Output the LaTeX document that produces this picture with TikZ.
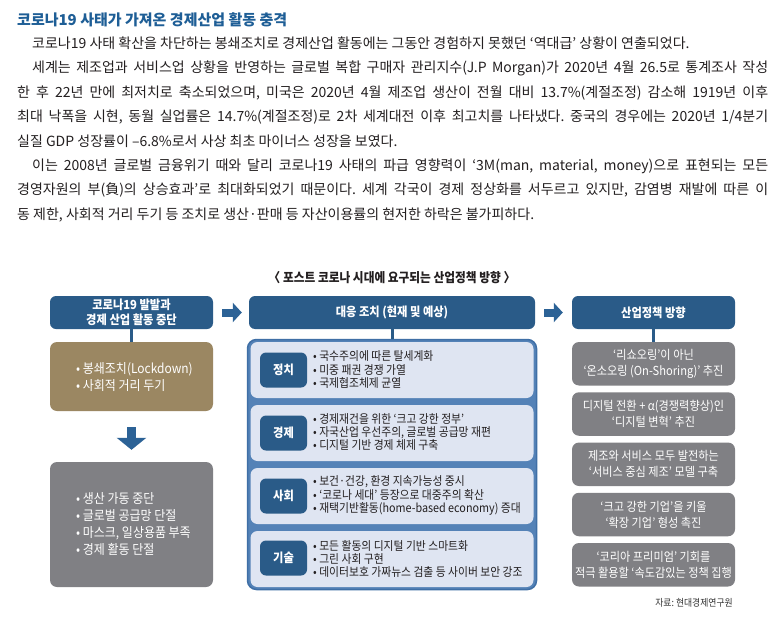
\documentclass[tikz,border=0pt]{standalone}
\usepackage{fontspec}
\usetikzlibrary{arrows.meta}
\setmainfont{Noto Sans CJK KR}
\newfontfamily\dg[FakeStretch=0.9]{Noto Sans CJK KR}
\frenchspacing
\definecolor{ttl}{HTML}{1E5E96}
\definecolor{txt}{HTML}{231F20}
\definecolor{navy}{HTML}{2A5B88}
\definecolor{brn}{HTML}{9B8762}
\definecolor{gry}{HTML}{808084}
\definecolor{pbl}{HTML}{5482B7}
\definecolor{pbd}{HTML}{3F6FA6}
\definecolor{plt}{HTML}{DFE5F2}
\definecolor{arw}{HTML}{2C6296}
\definecolor{srcc}{HTML}{333333}
\begin{document}
\begin{tikzpicture}[x=1pt,y=-1pt,
  body/.style={anchor=base west, inner sep=0pt, text=txt, font=\frenchspacing\fontsize{14}{15}\selectfont},
  ttlst/.style={anchor=base west, inner sep=0pt, text=ttl, font=\bfseries\fontsize{15}{18}\selectfont},
  hdr/.style={fill=navy, rounded corners=6pt, text=white, font=\dg\bfseries\fontsize{12.5}{15}\selectfont, align=center, minimum width=163pt, minimum height=33pt, inner sep=0pt},
  lbox/.style={rounded corners=7pt, minimum width=163pt, inner sep=0pt},
  ltxt/.style={anchor=west, inner sep=0pt, text=white, align=left, font=\dg\fontsize{13.3}{17}\selectfont},
  rbox/.style={fill=gry, rounded corners=7pt, minimum width=163pt, minimum height=43.5pt, inner sep=0pt, text=white, align=center, font=\dg\fontsize{12.4}{16}\selectfont},
  pan/.style={fill=plt, rounded corners=7pt, minimum width=283pt, minimum height=56pt, inner sep=0pt},
  lbl/.style={fill=navy, rounded corners=6pt, minimum width=47pt, minimum height=35pt, inner sep=0pt, text=white, font=\dg\bfseries\fontsize{12.5}{14}\selectfont},
  btxt/.style={anchor=west, inner sep=0pt, text=txt, align=left, font=\dg\fontsize{12}{13.3}\selectfont},
  link/.style={draw=navy, line width=3pt},
  fat/.style={draw=arw, line width=8pt, -{Triangle[width=19pt,length=9pt]}},
]
\useasboundingbox[fill=white] (0,0) rectangle (780,629);

% ---------- article text ----------
\node[ttlst] (t0) at (17,25.7) {코로나19 사태가 가져온 경제산업 활동 충격};
\node[body] (l1) at (32,48) {코로나19 사태 확산을 차단하는 봉쇄조치로 경제산업 활동에는 그동안 경험하지 못했던 ‘역대급’ 상황이 연출되었다.};
\node[body] (l2) at (32,72.5) {\makebox[736pt][s]{세계는 제조업과 서비스업 상황을 반영하는 글로벌 복합 구매자 관리지수(J.P Morgan)가 2020년 4월 26.5로 통계조사 작성}};
\node[body] (l3) at (17,97) {\makebox[751pt][s]{한 후 22년 만에 최저치로 축소되었으며, 미국은 2020년 4월 제조업 생산이 전월 대비 13.7\%(계절조정) 감소해 1919년 이후}};
\node[body] (l4) at (17,121.5) {\makebox[751pt][s]{최대 낙폭을 시현, 동월 실업률은 14.7\%(계절조정)로 2차 세계대전 이후 최고치를 나타냈다. 중국의 경우에는 2020년 1/4분기}};
\node[body] (l5) at (17,146) {실질 GDP 성장률이 –6.8\%로서 사상 최초 마이너스 성장을 보였다.};
\node[body] (l6) at (32,170) {\makebox[736pt][s]{이는 2008년 글로벌 금융위기 때와 달리 코로나19 사태의 파급 영향력이 ‘3M(man, material, money)으로 표현되는 모든}};
\node[body] (l7) at (17,194.5) {\makebox[751pt][s]{경영자원의 부(負)의 상승효과’로 최대화되었기 때문이다. 세계 각국이 경제 정상화를 서두르고 있지만, 감염병 재발에 따른 이}};
\node[body] (l8) at (17,219) {동 제한, 사회적 거리 두기 등 조치로 생산·판매 등 자산이용률의 현저한 하락은 불가피하다.};

% ---------- diagram ----------
\node[inner sep=0pt, text=txt, font=\dg\bfseries\fontsize{13}{14}\selectfont] (cap) at (392,278) {〈 포스트 코로나 시대에 요구되는 산업정책 방향 〉};

% headers
\node[hdr] (h1) at (131.5,312.5) {코로나19 발발과\\경제 산업 활동 중단};
\node[hdr, minimum width=286pt] (h2) at (392,312.5) {대응 조치 (현재 및 예상)};
\node[hdr] (h3) at (653.5,312.5) {산업정책 방향};

% left column
\node[lbox, fill=brn, minimum height=69pt] (b1) at (131.5,376.5) {};
\node[ltxt] (b1t) at (76,377.5) {• 봉쇄조치(Lockdown)\\• 사회적 거리 두기};
\node[lbox, fill=gry, minimum height=125pt] (g1) at (131.5,524.5) {};
\node[ltxt] (g1t) at (76,524.5) {• 생산 가동 중단\\• 글로벌 공급망 단절\\• 마스크, 일상용품 부족\\• 경제 활동 단절};

% middle panel
\node[fill=pbl, draw=pbd, line width=1.5pt, rounded corners=9pt, minimum width=289pt, minimum height=250pt, inner sep=0pt] (pnl) at (392,464.5) {};
\node[pan] (p1) at (392,370) {};
\node[pan] (p2) at (392,433) {};
\node[pan] (p3) at (392,496) {};
\node[pan] (p4) at (392,559) {};
\node[lbl] (k1) at (283.5,370) {정치};
\node[lbl] (k2) at (283.5,433) {경제};
\node[lbl] (k3) at (283.5,496) {사회};
\node[lbl] (k4) at (283.5,558) {기술};
\node[btxt] (q1) at (313,369.5) {• 국수주의에 따른 탈세계화\\• 미중 패권 경쟁 가열\\• 국제협조체제 균열};
\node[btxt] (q2) at (313,432) {• 경제재건을 위한 ‘크고 강한 정부’\\• 자국산업 우선주의, 글로벌 공급망 재편\\• 디지털 기반 경제 체제 구축};
\node[btxt] (q3) at (313,495.5) {• 보건·건강, 환경 지속가능성 중시\\• ‘코로나 세대’ 등장으로 대중주의 확산\\• 재택기반활동(home-based economy) 증대};
\node[btxt] (q4) at (313,559) {• 모든 활동의 디지털 기반 스마트화\\• 그린 사회 구현\\• 데이터보호 가짜뉴스 검출 등 사이버 보안 강조};

% right column
\node[rbox] (r1) at (653.5,363.75) {‘리쇼오링’이 아닌\\‘온소오링 (On-Shoring)’ 추진};
\node[rbox] (r2) at (653.5,414) {디지털 전환 + α(경쟁력향상)인\\‘디지털 변혁’ 추진};
\node[rbox] (r3) at (653.5,464.25) {제조와 서비스 모두 발전하는\\‘서비스 중심 제조’ 모델 구축};
\node[rbox] (r4) at (653.5,514.5) {‘크고 강한 기업’을 키울\\‘확장 기업’ 형성 촉진};
\node[rbox] (r5) at (653.5,564.75) {‘코리아 프리미엄’ 기회를\\적극 활용할 ‘속도감있는 정책 집행};

\node[anchor=east, inner sep=0pt, text=srcc, font=\dg\fontsize{9.8}{11}\selectfont] (src) at (733,603) {자료: 현대경제연구원};

% connectors
\draw[link] (h1.south) -- (b1.north);
\draw[link] (h2.south) -- (pnl.north);
\draw[link] (h3.south) -- (r1.north);
\draw[fat, shorten <=9pt, shorten >=7pt] (h1.east) -- (h2.west);
\draw[fat, shorten <=9pt, shorten >=9pt] (h2.east) -- (h3.west);
\draw[fat, line width=9.5pt, -{Triangle[width=29pt,length=12pt]}, shorten <=16pt, shorten >=12pt] (b1.south) -- (g1.north);
\end{tikzpicture}
\end{document}
